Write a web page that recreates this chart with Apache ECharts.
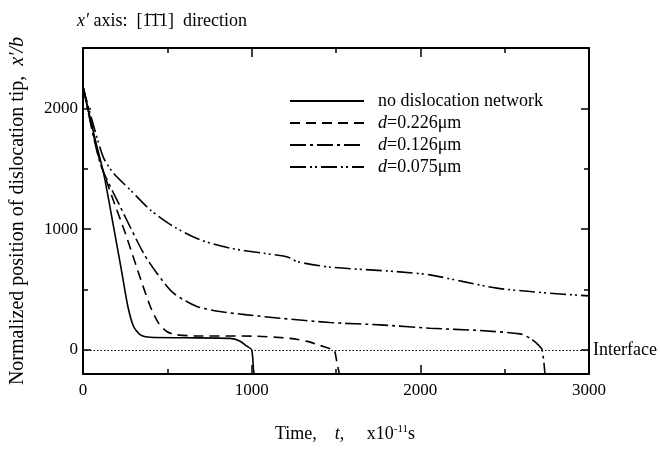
<!DOCTYPE html>
<html>
<head>
<meta charset="utf-8">
<script src="https://cdn.jsdelivr.net/npm/echarts@6/dist/echarts.min.js"></script>
<style>
  html, body { margin: 0; padding: 0; background: #fff; }
  #main { width: 660px; height: 449px; }
</style>
</head>
<body>
<div id="main"></div>
<script>
// series names (legend)
var seriesNames = ['no dislocation network', 'd=0.226μm', 'd=0.126μm', 'd=0.075μm'];

// [time (x10^-11 s), x'/b]
var noNetwork = [[0, 2180], [73, 1738], [122, 1463], [181, 1021], [231, 635], [266, 359], [300, 193],
  [340, 124], [400, 104], [600, 100], [873, 95], [932, 72], [972, 30], [1000, 0], [1011, -166], [1015, -200]];
var d226 = [[0, 2180], [93, 1600], [172, 1269], [251, 966], [330, 635], [399, 359], [448, 221], [497, 152],
  [547, 126], [659, 116], [1000, 114], [1228, 95], [1330, 70], [1409, 35], [1470, 8], [1490, 0], [1505, -100], [1520, -200]];
var d126 = [[0, 2180], [102, 1545], [221, 1186], [359, 800], [438, 635], [537, 469], [675, 359], [813, 317],
  [972, 290], [1169, 262], [1465, 226], [1761, 207], [2057, 179], [2354, 160], [2591, 132], [2650, 97],
  [2699, 41], [2722, 0], [2739, -200]];
var d075 = [[0, 2180], [60, 1870], [122, 1590], [181, 1463], [280, 1325], [399, 1159], [537, 1021], [695, 911],
  [873, 842], [1070, 800], [1188, 778], [1230, 760], [1268, 731], [1465, 685], [1860, 648], [2057, 621],
  [2255, 565], [2453, 511], [2650, 483], [2847, 461], [3000, 447]];

var yLabels = [0, 1000, 2000];
var yMinorTicks = [500, 1500, 2500];

var serif = 'Liberation Serif';
var fs = 18;
var chart = echarts.init(document.getElementById('main'));

function yAx(pos, major) {
  return {
    type: 'value', position: pos, min: -200, max: 2500,
    axisLine: { show: major, onZero: false, lineStyle: { color: '#000', width: 2 } },
    axisTick: { show: true, inside: true, length: major ? 8 : 5, customValues: major ? yLabels : yMinorTicks,
      lineStyle: { color: '#000', width: 1.5 } },
    axisLabel: { show: major && pos === 'left', customValues: yLabels, margin: 5,
      formatter: function (v) { return String(v); },
      fontFamily: serif, fontSize: 17, color: '#000' },
    splitLine: { show: false },
    name: (major && pos === 'left') ? 'Normalized position of dislocation tip,  {i|x′/b}' : '',
    nameLocation: 'middle', nameGap: 55,
    nameTextStyle: { fontFamily: serif, fontSize: 20, color: '#000',
      rich: { i: { fontFamily: serif, fontStyle: 'italic', fontSize: 20, color: '#000' } } }
  };
}

function xAx(pos) {
  return {
    type: 'value', position: pos, min: 0, max: 3000, interval: 1000,
    axisLine: { show: true, onZero: false, lineStyle: { color: '#000', width: 2 } },
    axisTick: { show: true, inside: true, length: 9, lineStyle: { color: '#000', width: 1.5 } },
    minorTick: { show: true, splitNumber: 2, length: 5, lineStyle: { color: '#000', width: 1.5 } },
    axisLabel: { show: pos === 'bottom', margin: 8, formatter: function (v) { return String(v); },
      fontFamily: serif, fontSize: 17, color: '#000' },
    splitLine: { show: false },
    name: pos === 'bottom' ? 'Time,    {i|t},     x10{s|-11}s' : '',
    nameLocation: 'middle', nameGap: 50,
    nameTextStyle: { fontFamily: serif, fontSize: fs, color: '#000', padding: [0, 0, 0, 18],
      rich: { i: { fontFamily: serif, fontStyle: 'italic', fontSize: fs, color: '#000' },
        s: { fontFamily: serif, fontSize: 11, color: '#000', verticalAlign: 'top', padding: [0, 0, 9, 0] } } }
  };
}

var dashes = ['solid', [10, 6], [16, 4, 3, 4], [16, 4, 2, 3, 2, 4]];
var datas = [noNetwork, d226, d126, d075];

var series = datas.map(function (d, i) {
  var s = {
    name: seriesNames[i], type: 'line', data: d, symbol: 'none', smooth: 0.25,
    xAxisIndex: 0, yAxisIndex: 0,
    lineStyle: { color: '#000', width: 1.6, type: dashes[i] },
    itemStyle: { color: '#000' }
  };
  if (i === 0) {
    s.markLine = {
      silent: true, symbol: 'none',
      lineStyle: { color: '#000', type: [1.5, 2], width: 1 },
      label: { position: 'end', formatter: 'Interface', distance: 4,
        fontFamily: serif, fontSize: fs, color: '#000' },
      data: [{ yAxis: 0 }]
    };
  }
  return s;
});

chart.setOption({
  backgroundColor: '#fff',
  animation: false,
  title: {
    text: '{i|x′} axis:  [1̄1̄1]  direction', left: 72, top: 7,
    textStyle: { fontFamily: serif, fontSize: fs, fontWeight: 'normal', color: '#000',
      rich: { i: { fontFamily: serif, fontStyle: 'italic', fontSize: fs, color: '#000' } } }
  },
  legend: {
    data: seriesNames, orient: 'vertical', left: 284, top: 87,
    itemWidth: 74, itemHeight: 12, itemGap: 4,
    itemStyle: { opacity: 0 },
    formatter: function (n) { return n.indexOf('d=') === 0 ? '{i|d}' + n.slice(1) : n; },
    textStyle: { fontFamily: serif, fontSize: fs, color: '#000', padding: [0, 0, 0, 9],
      rich: { i: { fontFamily: serif, fontStyle: 'italic', fontSize: fs, color: '#000' } } }
  },
  grid: { left: 83, right: 71, top: 48, bottom: 75 },
  xAxis: [xAx('bottom'), xAx('top')],
  yAxis: [yAx('left', true), yAx('left', false), yAx('right', true), yAx('right', false)],
  series: series
});
</script>
</body>
</html>
